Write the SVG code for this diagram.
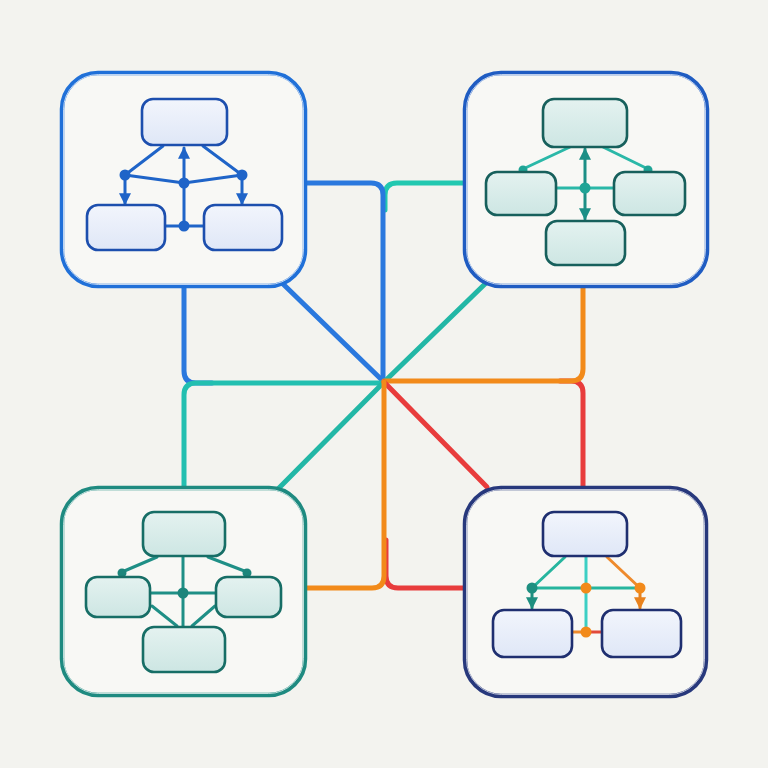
<svg xmlns="http://www.w3.org/2000/svg" width="768" height="768" viewBox="0 0 768 768">
<style>
.c{fill:none;stroke-width:5;stroke-linecap:round;stroke-linejoin:round}
.panel{fill:#f8f8f5;stroke-width:4.5}
.hl{fill:none;stroke:#ffffff;stroke-width:1;opacity:0.7}
.ib{stroke-width:2.6}
.il{stroke-width:3;fill:none;stroke-linecap:round}
</style>
<defs>
<marker id="aBlue" viewBox="0 0 10 10" refX="9" refY="5" markerWidth="4" markerHeight="4" orient="auto"><path d="M0,0 L10,5 L0,10 z" fill="#1f64c8"/></marker>
<marker id="aTeal" viewBox="0 0 10 10" refX="9" refY="5" markerWidth="4" markerHeight="4" orient="auto"><path d="M0,0 L10,5 L0,10 z" fill="#1c8f86"/></marker>
<marker id="aTeal2" viewBox="0 0 10 10" refX="9" refY="5" markerWidth="4" markerHeight="4" orient="auto"><path d="M0,0 L10,5 L0,10 z" fill="#1e8f80"/></marker>
<marker id="aOr" viewBox="0 0 10 10" refX="9" refY="5" markerWidth="4" markerHeight="4" orient="auto"><path d="M0,0 L10,5 L0,10 z" fill="#e8821e"/></marker>
<linearGradient id="gB" x1="0" y1="0" x2="0" y2="1"><stop offset="0" stop-color="#f2f5fc"/><stop offset="1" stop-color="#dfe7f7"/></linearGradient>
<linearGradient id="gT" x1="0" y1="0" x2="0" y2="1"><stop offset="0" stop-color="#e4f2f0"/><stop offset="1" stop-color="#cde6e3"/></linearGradient>
</defs>
<rect width="768" height="768" fill="#f3f3ef"/>

<g id="connectors">
  <path class="c" stroke="#22c8b0" d="M465,183 H397 Q385,183 385,195 V210"/>
  <path class="c" stroke="#2a78de" d="M305,183 H371 Q383,183 383,195 V382"/>
  <path class="c" stroke="#2a78de" d="M282,283 L384,382"/>
  <path class="c" stroke="#2a78de" d="M184,287 V371 Q184,383 196,383 H212"/>
  <path class="c" stroke="#22bfb0" d="M184,487 V395 Q184,383 196,383 H384"/>
  <path class="c" stroke="#22b7a6" d="M487,282 L384,382 L278,489"/>
  <path class="c" stroke="#e83c3c" d="M583,487 V393 Q583,381 571,381 H560"/>
  <path class="c" stroke="#f28a1a" d="M583,287 V369 Q583,381 571,381 H384"/>
  <path class="c" stroke="#e83c3c" d="M384,382 L487,487"/>
  <path class="c" stroke="#e83c3c" d="M386,540 V576 Q386,588 398,588 H465"/>
  <path class="c" stroke="#f28a1a" d="M384,382 V576 Q384,588 372,588 H305"/>
</g>

<g id="panel-tl">
  <rect class="panel" x="62" y="73" width="243" height="213" rx="36" stroke="#2070d8"/>
  <rect class="hl" x="63.5" y="74.5" width="240" height="210" rx="35"/>
  <g stroke="#1f64c8" class="il">
    <line x1="163" y1="146" x2="125" y2="175"/>
    <line x1="203" y1="146" x2="242" y2="175"/>
    <line x1="125" y1="175" x2="184" y2="183"/>
    <line x1="184" y1="183" x2="242" y2="175"/>
    <line x1="184" y1="183" x2="184" y2="148" marker-end="url(#aBlue)"/>
    <line x1="125" y1="175" x2="125" y2="204" marker-end="url(#aBlue)"/>
    <line x1="242" y1="175" x2="242" y2="204" marker-end="url(#aBlue)"/>
    <line x1="184" y1="183" x2="184" y2="225"/>
    <line x1="165" y1="226" x2="204" y2="226"/>
  </g>
  <g fill="#1f64c8">
    <circle cx="125" cy="175" r="5.5"/><circle cx="184" cy="183" r="5.5"/>
    <circle cx="242" cy="175" r="5.5"/><circle cx="184" cy="226" r="5.5"/>
  </g>
  <g fill="url(#gB)" stroke="#1d4fae" class="ib">
    <rect x="142" y="99" width="85" height="46" rx="11"/>
    <rect x="87" y="205" width="78" height="45" rx="11"/>
    <rect x="204" y="205" width="78" height="45" rx="11"/>
  </g>
</g>

<g id="panel-tr">
  <rect class="panel" x="465" y="73" width="242" height="213" rx="36" stroke="#1f5cc2"/>
  <rect class="hl" x="466.5" y="74.5" width="239" height="210" rx="35"/>
  <g stroke="#2bb8a8" class="il">
    <line x1="570" y1="147" x2="523" y2="169"/>
    <line x1="603" y1="147" x2="648" y2="169"/>
    <line x1="556" y1="188" x2="614" y2="188"/>
  </g>
  <g stroke="#1c8f86" class="il">
    <line x1="585" y1="188" x2="585" y2="149" marker-end="url(#aTeal)"/>
    <line x1="585" y1="188" x2="585" y2="219" marker-end="url(#aTeal)"/>
  </g>
  <g fill="#1fa496">
    <circle cx="585" cy="188" r="5.5"/><circle cx="523" cy="170" r="4.5"/><circle cx="648" cy="170" r="4.5"/>
  </g>
  <g fill="url(#gT)" stroke="#17605c" class="ib">
    <rect x="543" y="99" width="84" height="48" rx="11"/>
    <rect x="486" y="172" width="70" height="43" rx="11"/>
    <rect x="614" y="172" width="71" height="43" rx="11"/>
    <rect x="546" y="221" width="79" height="44" rx="11"/>
  </g>
</g>

<g id="panel-bl">
  <rect class="panel" x="62" y="488" width="243" height="207" rx="36" stroke="#1e8a80"/>
  <rect class="hl" x="63.5" y="489.5" width="240" height="204" rx="35"/>
  <g stroke="#1f8f86" class="il">
    <line x1="157" y1="557" x2="122" y2="572"/>
    <line x1="208" y1="557" x2="247" y2="572"/>
    <line x1="183" y1="557" x2="183" y2="627"/>
    <line x1="150" y1="593" x2="216" y2="593"/>
    <line x1="152" y1="606" x2="177" y2="626"/>
    <line x1="215" y1="606" x2="192" y2="626"/>
  </g>
  <g fill="#1c857b">
    <circle cx="183" cy="593" r="5.5"/><circle cx="122" cy="573" r="4.5"/><circle cx="247" cy="573" r="4.5"/>
  </g>
  <g fill="url(#gT)" stroke="#176e66" class="ib">
    <rect x="143" y="512" width="82" height="44" rx="11"/>
    <rect x="86" y="577" width="64" height="40" rx="11"/>
    <rect x="216" y="577" width="65" height="40" rx="11"/>
    <rect x="143" y="627" width="82" height="45" rx="11"/>
  </g>
</g>

<g id="panel-br">
  <rect class="panel" x="465" y="488" width="241" height="208" rx="36" stroke="#27387c"/>
  <rect class="hl" x="466.5" y="489.5" width="238" height="205" rx="35"/>
  <g class="il">
    <line x1="565" y1="557" x2="532" y2="588" stroke="#26b59e"/>
    <line x1="607" y1="557" x2="640" y2="588" stroke="#ee8a2c"/>
    <line x1="532" y1="588" x2="640" y2="588" stroke="#26b59e"/>
    <line x1="586" y1="557" x2="586" y2="632" stroke="#3ccfc4"/>
    <line x1="532" y1="588" x2="532" y2="608" stroke="#1e8f80" marker-end="url(#aTeal2)"/>
    <line x1="640" y1="588" x2="640" y2="608" stroke="#e8821e" marker-end="url(#aOr)"/>
    <line x1="572" y1="632" x2="586" y2="632" stroke="#ee8a2c"/>
    <line x1="586" y1="632" x2="602" y2="632" stroke="#e24a3a"/>
  </g>
  <circle cx="532" cy="588" r="5.5" fill="#1e8f80"/>
  <g fill="#f28a1a">
    <circle cx="586" cy="588" r="5.5"/><circle cx="640" cy="588" r="5.5"/><circle cx="586" cy="632" r="5.5"/>
  </g>
  <g fill="url(#gB)" stroke="#1f2f70" class="ib">
    <rect x="543" y="512" width="84" height="44" rx="11"/>
    <rect x="493" y="610" width="79" height="47" rx="11"/>
    <rect x="602" y="610" width="79" height="47" rx="11"/>
  </g>
</g>
</svg>
